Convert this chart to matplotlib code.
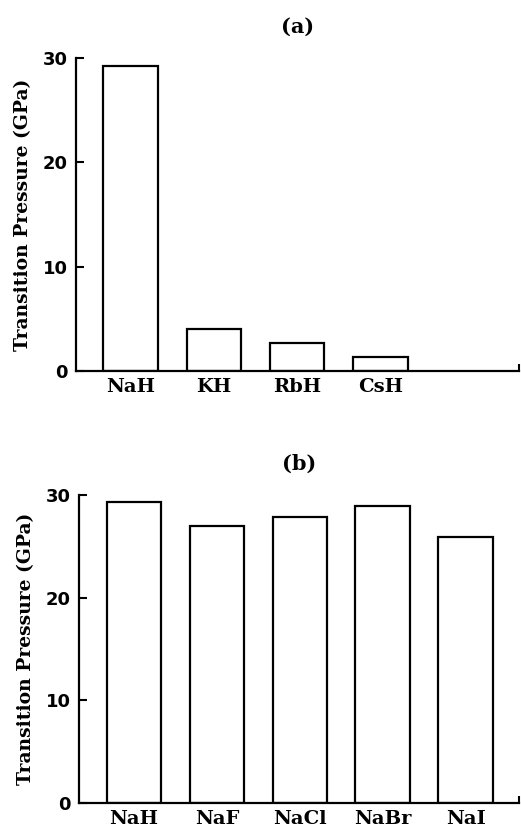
import numpy as np
import matplotlib.pyplot as plt

# Transition pressures (GPa)
hydrides = ['NaH', 'KH', 'RbH', 'CsH']
hydride_p = [29.2, 4.0, 2.7, 1.3]

sodium_salts = ['NaH', 'NaF', 'NaCl', 'NaBr', 'NaI']
sodium_p = [29.3, 27.0, 27.9, 28.9, 25.9]

serif = 'DejaVu Serif'
sans = 'DejaVu Sans'

fig = plt.figure(figsize=(5.21, 8.30), dpi=100)
ax_a = fig.add_axes([0.146, 0.553, 0.850, 0.377])
ax_b = fig.add_axes([0.152, 0.0325, 0.844, 0.371])


def draw_panel(ax, names, values, title, xmax):
    x = np.arange(len(names))
    ax.bar(x, values, width=0.66, facecolor='white', edgecolor='black', linewidth=1.6)
    ax.set_xlim(-0.66, xmax)
    ax.set_ylim(0, 30)
    ax.set_yticks([0, 10, 20, 30])
    ax.set_xticks(x)
    ax.set_xticklabels(names, fontfamily=serif, fontweight='bold', fontsize=14)
    ax.set_xticks([xmax], minor=True)
    for lab in ax.get_yticklabels():
        lab.set_fontfamily(sans)
        lab.set_fontweight('bold')
        lab.set_fontsize(13)
    ax.tick_params(axis='x', which='major', length=0, pad=5)
    ax.tick_params(axis='x', which='minor', direction='in', length=5, width=1.5)
    ax.tick_params(axis='y', direction='in', length=6, width=1.5, pad=6)
    ax.spines['top'].set_visible(False)
    ax.spines['right'].set_visible(False)
    ax.spines['left'].set_linewidth(1.6)
    ax.spines['bottom'].set_linewidth(1.6)
    ax.set_ylabel('Transition Pressure (GPa)', fontfamily=serif, fontweight='bold',
                  fontsize=13.5, labelpad=8)
    ax.set_title(title, fontfamily=serif, fontweight='bold', fontsize=15, pad=18)


draw_panel(ax_a, hydrides, hydride_p, '(a)', 4.67)
draw_panel(ax_b, sodium_salts, sodium_p, '(b)', 4.64)

fig.savefig('out.png', dpi=100)
